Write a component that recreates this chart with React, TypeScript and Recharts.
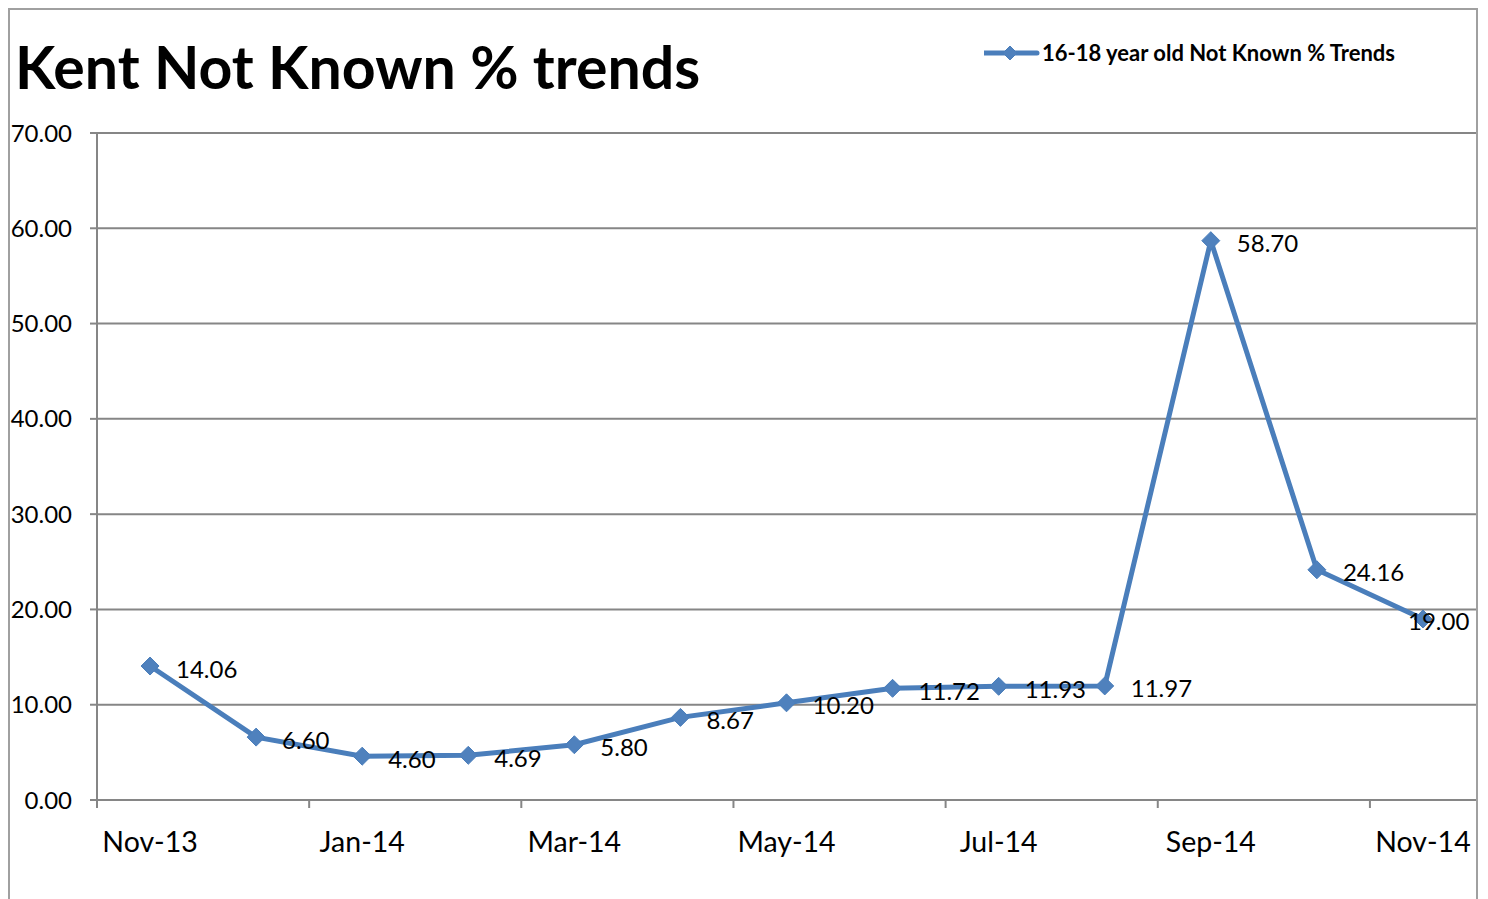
import React from 'react';
import { LineChart, Line, XAxis, YAxis, CartesianGrid, LabelList } from 'recharts';

const months = [
  'Nov-13', 'Dec-13', 'Jan-14', 'Feb-14', 'Mar-14', 'Apr-14', 'May-14',
  'Jun-14', 'Jul-14', 'Aug-14', 'Sep-14', 'Oct-14', 'Nov-14',
];
const notKnownPct = [14.06, 6.6, 4.6, 4.69, 5.8, 8.67, 10.2, 11.72, 11.93, 11.97, 58.7, 24.16, 19.0];
const yTicks = [0, 10, 20, 30, 40, 50, 60, 70];
const seriesName = '16-18 year old Not Known % Trends';
const chartTitle = 'Kent Not Known % trends';

const data = months.map((month, i) => ({ month, value: notKnownPct[i] }));

const FONT = 'Lato, "Open Sans", sans-serif';
const LINE = '#4a7ebb';
const MARKER = '#4f81bd';
const GRID = '#868686';

const W = 1466;
const H = 890;
const Y_AXIS_W = 87;
const STEP = (W - Y_AXIS_W) / months.length;

function Diamond({ cx, cy, size = 9 }: any) {
  if (cx == null || cy == null) return null;
  const r = size;
  return (
    <polygon
      points={`${cx},${cy - r} ${cx + r},${cy} ${cx},${cy + r} ${cx - r},${cy}`}
      fill={MARKER}
      stroke={LINE}
      strokeWidth={1}
    />
  );
}

function XTick({ x, y, payload }: any) {
  const bx = x - STEP / 2;
  return (
    <g>
      <line x1={bx} x2={bx} y1={y} y2={y + 8} stroke={GRID} strokeWidth={2} />
      <text x={x} y={y + 52} textAnchor="middle" fontSize={28.5} fontFamily={FONT} fill="#000">
        {payload.value}
      </text>
    </g>
  );
}

function ValueLabel({ x, y, value }: any) {
  const txt = Number(value).toFixed(2);
  const fs = 24;
  const estW = txt.length * fs * 0.5;
  let lx = x + 26;
  if (lx + estW > W - 8) lx = W - 8 - estW;
  return (
    <text x={lx} y={y + 2} dominantBaseline="central" fontSize={fs} fontFamily={FONT} fill="#000">
      {txt}
    </text>
  );
}

export default function App() {
  return (
    <div
      style={{
        position: 'relative',
        width: 1470,
        height: 900,
        border: '2px solid #a0a0a0',
        borderBottom: 'none',
        boxSizing: 'border-box',
        background: '#fff',
        fontFamily: FONT,
      }}
    >
      <div
        style={{
          position: 'absolute',
          left: 5,
          top: 27,
          fontSize: 59,
          lineHeight: '59px',
          fontWeight: 700,
          color: '#000',
          whiteSpace: 'nowrap',
        }}
      >
        {chartTitle}
      </div>
      <div
        style={{
          position: 'absolute',
          left: 974,
          top: 33,
          display: 'flex',
          alignItems: 'center',
          height: 20,
          whiteSpace: 'nowrap',
        }}
      >
        <svg width={58} height={20}>
          <line x1={0} x2={53} y1={10} y2={10} stroke={LINE} strokeWidth={5} strokeLinecap="round" />
          <Diamond cx={26} cy={10} size={7} />
        </svg>
        <span style={{ fontSize: 22, lineHeight: '20px', fontWeight: 700, color: '#000' }}>{seriesName}</span>
      </div>
      <div style={{ position: 'absolute', left: 0, top: 0 }}>
        <LineChart width={W} height={H} data={data} margin={{ top: 123, right: 0, left: 0, bottom: 40 }}>
          <CartesianGrid vertical={false} stroke={GRID} strokeWidth={2} />
          <XAxis
            dataKey="month"
            interval={1}
            padding={{ left: STEP / 2, right: STEP / 2 }}
            axisLine={{ stroke: GRID, strokeWidth: 2 }}
            tickLine={false}
            tickSize={0}
            tickMargin={0}
            height={60}
            tick={<XTick />}
          />
          <YAxis
            domain={[0, 70]}
            ticks={yTicks}
            width={Y_AXIS_W}
            axisLine={{ stroke: GRID, strokeWidth: 2 }}
            tickLine={{ stroke: GRID, strokeWidth: 2 }}
            tickSize={7}
            tickMargin={18}
            tickFormatter={(v: number) => v.toFixed(2)}
            tick={{ fill: '#000', fontSize: 24, fontFamily: FONT }}
          />
          <Line
            type="linear"
            dataKey="value"
            name={seriesName}
            stroke={LINE}
            strokeWidth={5}
            dot={(p: any) => <Diamond key={p.index} cx={p.cx} cy={p.cy} size={9} />}
            activeDot={false}
            isAnimationActive={false}
          >
            <LabelList dataKey="value" content={<ValueLabel />} />
          </Line>
        </LineChart>
      </div>
    </div>
  );
}
